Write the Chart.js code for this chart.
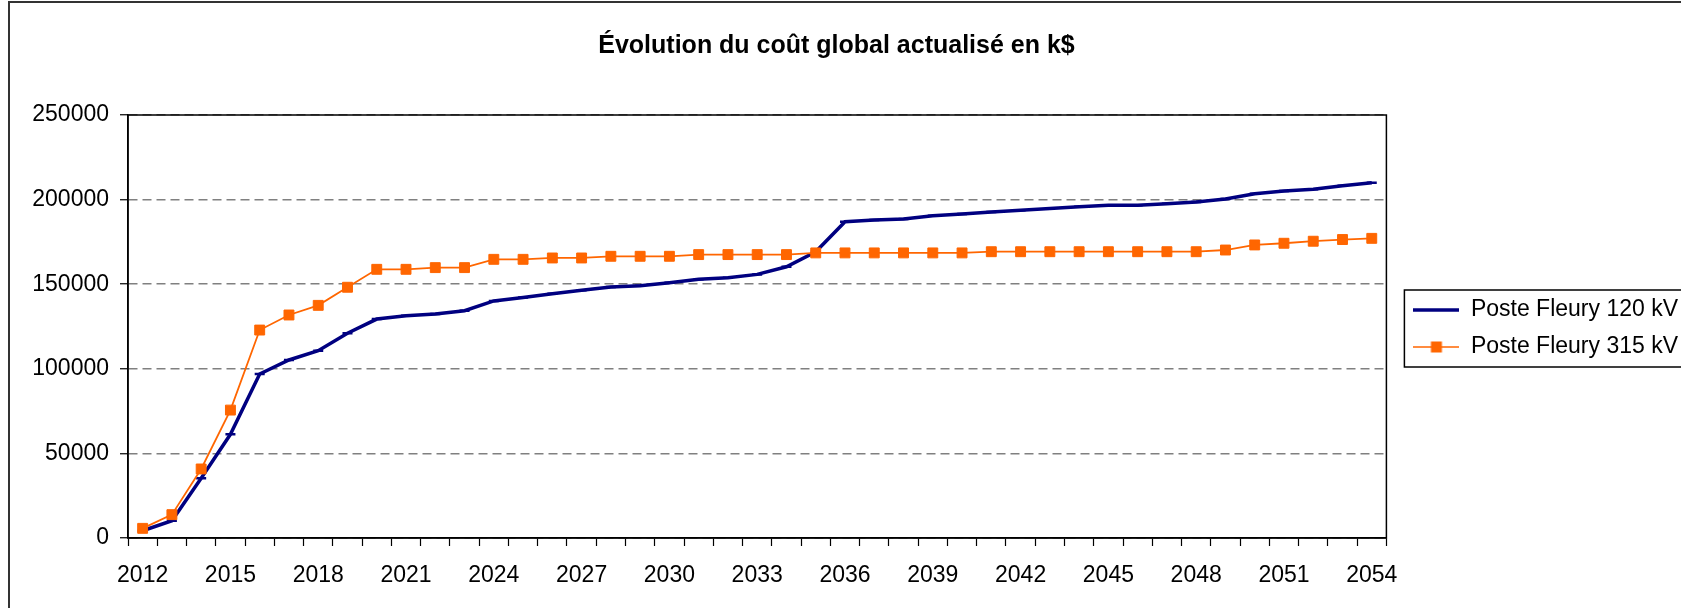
<!DOCTYPE html>
<html>
<head>
<meta charset="utf-8">
<script src="https://cdn.jsdelivr.net/npm/chart.js@4.4.1/dist/chart.umd.min.js"></script>
<style>
    html, body { margin: 0; padding: 0; background: #fff; overflow: hidden; }
    #frame {
        position: absolute; left: 8px; top: 1px;
        width: 1720px; height: 660px;
        border: 2px solid #333; overflow: hidden; background: #fff;
    }
    #costChart { display: block; }
</style>
</head>
<body>
<div id="frame">
    <canvas id="costChart" width="1720" height="605"></canvas>
</div>
<script>
/* ================= DATA ================= */
const years = [];
for (let y = 2012; y <= 2054; y++) years.push(String(y));

const fleury120 = [
    4300, 10200, 35300, 61300, 96900, 105200, 110700, 121000, 129400, 131400,
    132400, 134300, 140100, 142200, 144300, 146400, 148300, 149100, 150900, 152900,
    153800, 155800, 160300, 169200, 186900, 187900, 188600, 190500, 191500, 192700,
    193700, 194800, 195800, 196600, 196600, 197600, 198600, 200300, 203500, 205100,
    206100, 208200, 210000
];
const fleury315 = [
    5700, 13800, 40800, 75600, 122900, 131800, 137500, 148200, 158800, 158800,
    159800, 159800, 164700, 164700, 165500, 165500, 166500, 166500, 166500, 167500,
    167500, 167500, 167500, 168500, 168500, 168500, 168500, 168500, 168500, 169200,
    169200, 169200, 169200, 169200, 169200, 169200, 169200, 170200, 173200, 174200,
    175400, 176400, 177100
];
const seriesNames = ['Poste Fleury 120 kV', 'Poste Fleury 315 kV'];
const yTicks = [0, 50000, 100000, 150000, 200000, 250000];
const titleText = 'Évolution du coût global actualisé en k$';

const FONT = "'Liberation Sans', Arial, Helvetica, sans-serif";
const NAVY = '#000080';
const ORANGE = '#FF6600';

// small line+marker samples for the legend (Excel style)
function legendSample(color, lw, square) {
    const c = document.createElement('canvas');
    c.width = 46; c.height = 14;
    const g = c.getContext('2d');
    g.strokeStyle = color; g.lineWidth = lw;
    g.beginPath(); g.moveTo(0, 7); g.lineTo(46, 7); g.stroke();
    if (square) { g.fillStyle = color; g.fillRect(17.5, 1.5, 11, 11); }
    return c;
}
const samples = [legendSample(NAVY, 3.5, false), legendSample(ORANGE, 1.5, true)];

// plot area frame + legend box
const framePlugin = {
    id: 'framePlugin',
    afterLayout(chart) {
        const lg = chart.legend;
        lg.left += 13; lg.right += 13;
        lg.top += 32; lg.bottom += 32;
        const tb = chart.titleBlock;
        tb.left -= 17; tb.right -= 17;
    },
    afterDraw(chart) {
        const { ctx, chartArea: a, legend: lg } = chart;
        ctx.save();
        ctx.strokeStyle = '#000';
        ctx.lineWidth = 1.5;
        ctx.strokeRect(a.left, a.top, a.right - a.left, a.bottom - a.top);
        const hb = lg.legendHitBoxes;
        if (hb && hb.length) {
            const top = hb[0].top - 8.5;
            const bottom = hb[hb.length - 1].top + hb[hb.length - 1].height + 8.5;
            const left = lg.left + lg.options.labels.padding - 9;
            ctx.strokeRect(left, top, 1700 - left, bottom - top);
        }
        ctx.restore();
    }
};

const ctx = document.getElementById('costChart').getContext('2d');
new Chart(ctx, {
    type: 'line',
    data: {
        labels: years,
        datasets: [
            {
                label: seriesNames[0], data: fleury120, order: 1,
                borderColor: NAVY, backgroundColor: NAVY, borderWidth: 3.5,
                pointStyle: 'line', pointRadius: 5, pointBorderWidth: 2.5,
                pointBorderColor: NAVY, tension: 0, fill: false
            },
            {
                label: seriesNames[1], data: fleury315, order: 0,
                borderColor: ORANGE, backgroundColor: ORANGE, borderWidth: 1.8,
                pointStyle: 'rect', pointRadius: 7, pointBorderWidth: 1,
                pointBorderColor: ORANGE, pointBackgroundColor: ORANGE, tension: 0, fill: false
            }
        ]
    },
    options: {
        responsive: false,
        animation: false,
        layout: { padding: { left: 22, right: 55, top: 0, bottom: 18 } },
        plugins: {
            tooltip: { enabled: false },
            title: {
                display: true, text: titleText, color: '#000',
                font: { family: FONT, size: 25, weight: 'bold' },
                padding: { top: 28, bottom: 54 }
            },
            legend: {
                position: 'right', align: 'center',
                labels: {
                    color: '#000', font: { family: FONT, size: 23 },
                    usePointStyle: true, pointStyleWidth: 46, padding: 14,
                    sort: (a, b) => a.datasetIndex - b.datasetIndex,
                    generateLabels(chart) {
                        const items = Chart.defaults.plugins.legend.labels.generateLabels(chart);
                        items.forEach(it => { it.pointStyle = samples[it.datasetIndex]; });
                        return items;
                    }
                }
            }
        },
        scales: {
            x: {
                type: 'category', offset: true,
                afterFit(scale) { scale.height = 52; },
                grid: { display: true, drawOnChartArea: false, offset: true, tickLength: 8, tickColor: '#000', tickWidth: 1.2 },
                border: { display: true, color: '#000', width: 1.5 },
                ticks: {
                    autoSkip: false, maxRotation: 0, padding: 16, color: '#000',
                    font: { family: FONT, size: 23 },
                    callback: (v, i) => (i % 3 === 0 ? years[i] : '')
                }
            },
            y: {
                min: 0, max: 250000,
                afterFit(scale) { scale.width = 96; },
                afterBuildTicks(scale) { scale.ticks = yTicks.map(v => ({ value: v })); },
                grid: { color: '#808080', lineWidth: 1.5, tickLength: 8, tickColor: '#000', tickWidth: 1.2 },
                border: { display: true, color: '#000', width: 1.5, dash: [9, 5] },
                ticks: {
                    padding: 11, color: '#000', font: { family: FONT, size: 23 },
                    callback: v => String(v)
                }
            }
        }
    },
    plugins: [framePlugin]
});
</script>
</body>
</html>
